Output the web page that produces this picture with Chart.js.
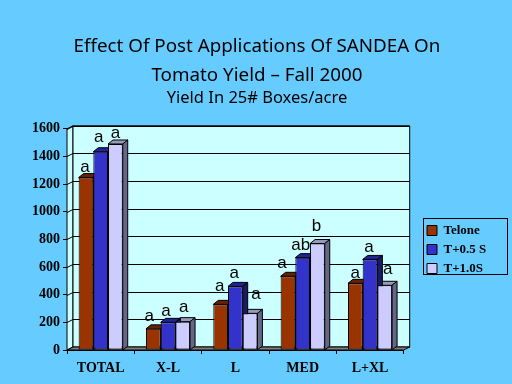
<!DOCTYPE html>
<html>
<head>
<meta charset="utf-8">
<style>
html, body { margin: 0; padding: 0; background: #66CCFF; }
canvas { display: block; }
</style>
<script src="https://cdn.jsdelivr.net/npm/chart.js@4/dist/chart.umd.min.js"></script>
</head>
<body>
<canvas id="yield_chart" width="512" height="384"></canvas>
<script>
let categories = ['TOTAL', 'X-L', 'L', 'MED', 'L+XL'];
let telone = [1247, 153, 330, 533, 482];
let tHalf = [1434, 200, 460, 668, 655];
let tOne = [1490, 205, 265, 770, 468];
let teloneSig = ['a', 'a', 'a', 'a', 'a'];
let tHalfSig = ['a', 'a', 'a', 'ab', 'a'];
let tOneSig = ['a', 'a', 'a', 'b', 'a'];
let sigLetters = [teloneSig, tHalfSig, tOneSig];

// depth of the fake 3d box, front plane is the real chart area
let dx = 6, dy = 3;
let barDepth = [5, 4];
let faces = [
    {top: '#662200', side: '#4d1a00'},
    {top: '#222299', side: '#1a1a66'},
    {top: '#9999BB', side: '#666688'}
];
// the letters were hand placed in the original, so each one has its own nudge from its bar
let sigShift = [[-1, -4, -1, -6, 0], [-2, -2, -1, -2, -1], [0, 1, 6, -1, 3]];
let sigLift = [[6, 8, 13, 8, 5], [10, 6, 8, 8, 7], [6, 10, 14, 13, 11]];

function poly(ctx, pts, fill) {
    ctx.beginPath();
    pts.forEach(function(p, i) { i ? ctx.lineTo(p[0], p[1]) : ctx.moveTo(p[0], p[1]); });
    ctx.closePath();
    if (fill) { ctx.fillStyle = fill; ctx.fill(); }
    ctx.strokeStyle = '#000';
    ctx.lineWidth = 1;
    ctx.stroke();
}

let box3d = {
    id: 'box3d',
    afterLayout: function(chart) {
        // legend sits in its own box, away from where chart.js puts it
        let l = chart.legend, w = l.width;
        l.left = 421;
        l.right = 421 + w;
        l.top = 218;
        // titles centre on the whole page, not on the padded width
        chart.boxes.forEach(function(b) {
            if (b.position === 'top') { b.left = 0; b.right = 514; }
        });
    },
    beforeDatasetsDraw: function(chart) {
        let ctx = chart.ctx, a = chart.chartArea, y = chart.scales.y;
        ctx.save();
        // side wall and back wall
        poly(ctx, [[a.left, a.top], [a.left + dx, a.top - dy], [a.left + dx, a.bottom - dy], [a.left, a.bottom]], '#CCFFFF');
        poly(ctx, [[a.left + dx, a.top - dy], [a.right + dx, a.top - dy], [a.right + dx, a.bottom - dy], [a.left + dx, a.bottom - dy]], '#CCFFFF');
        y.ticks.forEach(function(t) {
            let py = Math.round(y.getPixelForValue(t.value)) + 0.5;
            ctx.beginPath();
            ctx.moveTo(a.left, py);
            ctx.lineTo(a.left + dx, py - dy);
            ctx.lineTo(a.right + dx, py - dy);
            ctx.strokeStyle = '#000';
            ctx.stroke();
        });
        poly(ctx, [[a.left, a.bottom], [a.left + dx, a.bottom - dy], [a.right + dx, a.bottom - dy], [a.right, a.bottom]], '#808080');
        // tops and sides of the bars, last series first so the nearer ones cover it
        for (let d = 2; d >= 0; d--) {
            chart.getDatasetMeta(d).data.forEach(function(bar) {
                let l = bar.x - bar.width / 2, r = bar.x + bar.width / 2;
                poly(ctx, [[l, bar.y], [l + barDepth[0], bar.y - barDepth[1]], [r + barDepth[0], bar.y - barDepth[1]], [r, bar.y]], faces[d].top);
                poly(ctx, [[r, bar.y], [r + barDepth[0], bar.y - barDepth[1]], [r + barDepth[0], a.bottom - barDepth[1]], [r, a.bottom]], faces[d].side);
            });
        }
        ctx.restore();
    },
    afterDatasetsDraw: function(chart) {
        let ctx = chart.ctx;
        ctx.save();
        ctx.fillStyle = '#000';
        ctx.font = '17px "Liberation Sans"';
        ctx.textAlign = 'center';
        ctx.textBaseline = 'alphabetic';
        sigLetters.forEach(function(letters, d) {
            chart.getDatasetMeta(d).data.forEach(function(bar, i) {
                ctx.fillText(letters[i], bar.x + sigShift[d][i], bar.y - sigLift[d][i]);
            });
        });
        ctx.restore();
    },
    afterDraw: function(chart) {
        let ctx = chart.ctx;
        ctx.save();
        ctx.strokeStyle = '#000';
        ctx.lineWidth = 1;
        ctx.strokeRect(423.5, 218.5, 84, 56);
        ctx.restore();
    }
};

function series(label, color, data) {
    return {label: label, data: data, backgroundColor: color, borderColor: '#000', borderWidth: 1, borderSkipped: false};
}

let yieldChart = new Chart(document.getElementById('yield_chart'), {
    type: 'bar',
    data: {
        labels: categories,
        datasets: [
            series('Telone', '#993300', telone),
            series('T+0.5 S', '#3333CC', tHalf),
            series('T+1.0S', '#CCCCFF', tOne)
        ]
    },
    options: {
        responsive: false,
        animation: false,
        layout: {padding: {left: 0, right: 33, top: 0, bottom: 0}},
        datasets: {bar: {barPercentage: 1, categoryPercentage: 0.655}},
        scales: {
            x: {
                afterFit: function(scale) { scale.height = 34; },
                grid: {drawOnChartArea: false, color: '#000', tickLength: 4},
                border: {color: '#000'},
                ticks: {color: '#000', maxRotation: 0, padding: 6, font: {family: 'Liberation Serif', weight: 'bold', size: 14}}
            },
            y: {
                min: 0,
                max: 1600,
                afterFit: function(scale) { scale.width = 67; },
                grid: {drawOnChartArea: false, color: '#000', tickLength: 4},
                border: {color: '#000'},
                ticks: {
                    color: '#000',
                    stepSize: 200,
                    padding: 3,
                    callback: function(v) { return String(v); },
                    font: {family: 'Liberation Serif', weight: 'bold', size: 14}
                }
            }
        },
        plugins: {
            title: {
                display: true,
                text: ['Effect Of Post Applications Of SANDEA On', 'Tomato Yield – Fall 2000'],
                color: '#000',
                font: {family: 'Noto Sans', weight: 'normal', size: 18.8, lineHeight: 1.55},
                padding: {top: 32, bottom: 0}
            },
            subtitle: {
                display: true,
                text: 'Yield In 25# Boxes/acre',
                color: '#000',
                font: {family: 'Noto Sans', weight: 'normal', size: 16.5, lineHeight: 1},
                padding: {top: 0, bottom: 22}
            },
            legend: {
                position: 'right',
                align: 'start',
                labels: {
                    color: '#000',
                    boxWidth: 10,
                    boxHeight: 10,
                    padding: 6,
                    font: {family: 'Liberation Serif', weight: 'bold', size: 13}
                }
            },
            tooltip: {enabled: false}
        }
    },
    plugins: [box3d]
});
</script>
</body>
</html>
